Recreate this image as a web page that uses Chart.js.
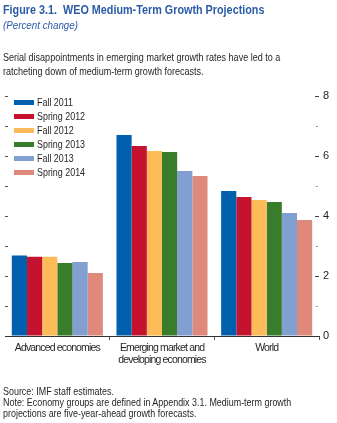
<!DOCTYPE html>
<html><head><meta charset="utf-8">
<script src="https://cdn.jsdelivr.net/npm/chart.js@4.4.0/dist/chart.umd.min.js"></script>
<style>
html,body{margin:0;padding:0;background:#fff;}
body{width:337px;height:423px;position:relative;overflow:hidden;font-family:"Liberation Sans","Arial",sans-serif;color:#231f20;}
#c{position:absolute;left:0;top:0;}
.t{position:absolute;left:3px;white-space:nowrap;transform-origin:0 0;}
#title{top:2px;font-size:13.5px;font-weight:bold;color:#2b5ca8;line-height:15px;transform:scaleX(0.80);}
#sub{top:19px;font-size:11.5px;font-style:italic;color:#2b5ca8;line-height:13px;transform:scaleX(0.85);}
#desc{top:51px;font-size:11px;line-height:13.5px;transform:scaleX(0.82);}
#notes{top:386px;font-size:10.5px;line-height:11.2px;transform:scaleX(0.85);}
#legend{position:absolute;left:14px;top:95px;font-size:11px;}
.li{height:14px;line-height:14px;position:relative;white-space:nowrap;}
.sw{display:inline-block;width:20px;height:5px;vertical-align:middle;margin-right:3px;position:relative;top:-1px;}
.lt{display:inline-block;transform:scaleX(0.81);transform-origin:0 50%;}
</style></head>
<body>
<canvas id="c" width="337" height="423"></canvas>
<div class="t" id="title">Figure 3.1.&nbsp; WEO Medium-Term Growth Projections</div>
<div class="t" id="sub">(Percent change)</div>
<div class="t" id="desc">Serial disappointments in emerging market growth rates have led to a<br>ratcheting down of medium-term growth forecasts.</div>
<div id="legend"></div>
<div class="t" id="notes">Source: IMF staff estimates.<br>Note: Economy groups are defined in Appendix 3.1. Medium-term growth<br>projections are five-year-ahead growth forecasts.</div>
<script>
const categories = [["Advanced economies"], ["Emerging market and", "developing economies"], ["World"]];
const seriesNames = ["Fall 2011", "Spring 2012", "Fall 2012", "Spring 2013", "Fall 2013", "Spring 2014"];
const fall2011 = [2.68, 6.70, 4.83];
const spring2012 = [2.64, 6.33, 4.63];
const fall2012 = [2.64, 6.17, 4.53];
const spring2013 = [2.43, 6.13, 4.47];
const fall2013 = [2.47, 5.50, 4.10];
const spring2014 = [2.10, 5.33, 3.87];
const yTickLabels = ["0", "", "2", "", "4", "", "6", "", "8"];

const seriesValues = [fall2011, spring2012, fall2012, spring2013, fall2013, spring2014];
const colors = ["#0060ae", "#c4122f", "#fdbb59", "#387c2c", "#829fd1", "#df897c"];

const lg = document.getElementById('legend');
seriesNames.forEach((n, i) => {
  const d = document.createElement('div');
  d.className = 'li';
  d.innerHTML = '<span class="sw" style="background:' + colors[i] + '"></span><span class="lt">' + n + '</span>';
  lg.appendChild(d);
});

const FONT = '"Liberation Sans","Arial",sans-serif';
const condense = {
  id: 'condense',
  beforeDraw(chart) { chart.ctx.letterSpacing = '-0.85px'; },
  afterDraw(chart) { chart.ctx.letterSpacing = '0px'; }
};
new Chart(document.getElementById('c'), {
  type: 'bar',
  data: {
    labels: categories,
    datasets: seriesNames.map((n, i) => ({
      label: n, data: seriesValues[i], backgroundColor: colors[i],
      borderWidth: 0, categoryPercentage: 0.87, barPercentage: 1.0, yAxisID: 'y'
    }))
  },
  plugins: [condense],
  options: {
    responsive: false, animation: false,
    layout: { padding: { top: 96, left: 0, right: 0, bottom: 0 } },
    plugins: { legend: { display: false }, tooltip: { enabled: false } },
    scales: {
      x: {
        offset: true,
        border: { display: true, color: '#333', width: 1 },
        grid: {
          offset: true, drawOnChartArea: false, drawTicks: true, tickLength: 4,
          tickColor: (ctx) => (ctx.index === 0 || ctx.index === categories.length) ? 'rgba(0,0,0,0)' : '#555'
        },
        ticks: { color: '#231f20', font: { family: FONT, size: 10.5, lineHeight: 1.15 }, padding: 2, maxRotation: 0, autoSkip: false },
        afterFit: (s) => { s.height = 423 - 336; }
      },
      y: {
        position: 'right', min: 0, max: 8,
        border: { display: false },
        grid: {
          drawOnChartArea: false, drawTicks: true, tickLength: -4,
          tickColor: (ctx) => (ctx.tick && ctx.tick.value % 2 === 0) ? '#444' : '#777',
          tickBorderDash: (ctx) => (ctx.tick && ctx.tick.value % 2 === 0) ? [] : [0, 1.5, 1.5, 10]
        },
        ticks: { stepSize: 1, color: '#231f20', padding: 8, font: { family: FONT, size: 11 },
          callback: (v) => yTickLabels[v] },
        afterFit: (s) => { s.width = 18; }
      },
      yl: {
        position: 'left', min: 0, max: 8,
        border: { display: false },
        grid: { drawOnChartArea: false, drawTicks: true, tickLength: -3, tickColor: '#555' },
        ticks: { stepSize: 1, callback: () => '', padding: 0 },
        afterFit: (s) => { s.width = 5; }
      }
    }
  }
});
</script>
</body></html>
